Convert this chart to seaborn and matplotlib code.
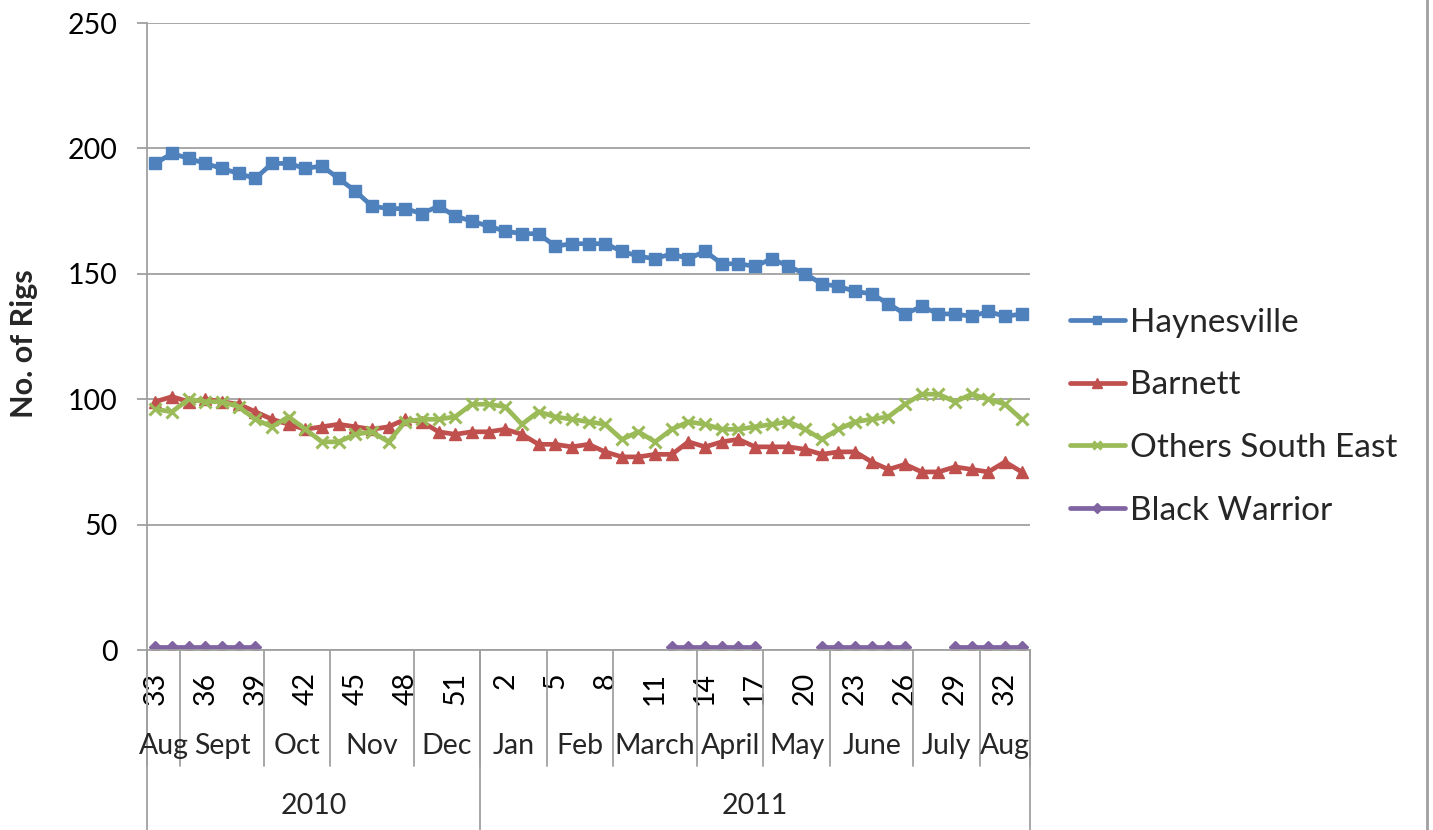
import numpy as np
import pandas as pd
import matplotlib
matplotlib.use("Agg")
import matplotlib.pyplot as plt
from matplotlib.lines import Line2D
import seaborn as sns

nan = np.nan

# week numbers, Aug 2010 (wk 33) to Aug 2011 (wk 33)
weeks = list(range(33, 53)) + list(range(1, 34))
months = ["Aug", "Sept", "Oct", "Nov", "Dec", "Jan", "Feb", "March",
          "April", "May", "June", "July", "Aug"]
month_weeks = [2, 5, 4, 5, 4, 4, 4, 5, 4, 4, 5, 4, 3]
years = ["2010", "2011"]
year_weeks = [20, 33]

haynesville = [194, 198, 196, 194, 192, 190, 188, 194, 194, 192,
               193, 188, 183, 177, 176, 176, 174, 177, 173, 171,
               169, 167, 166, 166, 161, 162, 162, 162, 159, 157,
               156, 158, 156, 159, 154, 154, 153, 156, 153, 150,
               146, 145, 143, 142, 138, 134, 137, 134, 134, 133,
               135, 133, 134]
barnett = [99, 101, 99, 100, 99, 98, 95, 92, 90, 88,
           89, 90, 89, 88, 89, 92, 91, 87, 86, 87,
           87, 88, 86, 82, 82, 81, 82, 79, 77, 77,
           78, 78, 83, 81, 83, 84, 81, 81, 81, 80,
           78, 79, 79, 75, 72, 74, 71, 71, 73, 72,
           71, 75, 71]
others_se = [96, 95, 100, 99, 99, 97, 92, 89, 93, 88,
             83, 83, 86, 87, 83, 91, 92, 92, 93, 98,
             98, 97, 90, 95, 93, 92, 91, 90, 84, 87,
             83, 88, 91, 90, 88, 88, 89, 90, 91, 88,
             84, 88, 91, 92, 93, 98, 102, 102, 99, 102,
             100, 98, 92]
black_warrior = [1, 1, 1, 1, 1, 1, 1, nan, nan, nan,
                 nan, nan, nan, nan, nan, nan, nan, nan, nan, nan,
                 nan, nan, nan, nan, nan, nan, nan, nan, nan, nan,
                 nan, 1, 1, 1, 1, 1, 1, nan, nan, nan,
                 1, 1, 1, 1, 1, 1, nan, nan, 1, 1,
                 1, 1, 1]

names = ["Haynesville", "Barnett", "Others South East", "Black Warrior"]
values = [haynesville, barnett, others_se, black_warrior]
colors = ["#4F81BD", "#C0504D", "#9BBB59", "#8064A2"]
markers = ["s", "^", "x", "D"]
msizes = [8, 9, 8, 6.5]
mews = [1, 1, 2.2, 1]

sns.set_theme(style="white")
plt.rcParams["font.family"] = ["Lato", "DejaVu Sans"]

fig = plt.figure(figsize=(14.33, 8.30), dpi=100)
ax = fig.add_axes([147 / 1433, 180 / 830, 883 / 1433, 627 / 830])

x = np.arange(len(weeks))
for name, vals, col, mk, ms, mew in zip(names, values, colors, markers, msizes, mews):
    df = pd.DataFrame({"week": x, "rigs": vals})
    df["seg"] = df["rigs"].isna().cumsum()   # keep gaps for missing weeks
    df = df.dropna()
    sns.lineplot(data=df, x="week", y="rigs", units="seg", estimator=None,
                 color=col, marker=mk, markersize=ms, markeredgecolor=col,
                 markerfacecolor=col, markeredgewidth=mew, linewidth=3.4,
                 ax=ax, legend=False)

grey = "#A0A0A0"
ax.set_xlim(-0.5, len(weeks) - 0.5)
ax.set_ylim(0, 250)
ax.set_yticks(range(0, 251, 50))
ax.yaxis.grid(True, color=grey, lw=1.3)
ax.xaxis.grid(False)
ax.set_axisbelow(True)
for s in ["top", "right"]:
    ax.spines[s].set_visible(False)
for s in ["left", "bottom"]:
    ax.spines[s].set_color(grey)
    ax.spines[s].set_linewidth(1.3)

ax.tick_params(axis="y", left=True, length=7, width=1.3, color=grey, pad=14,
               labelsize=20.5, labelcolor="black")
ax.set_xticks(x[::3])
ax.set_xticklabels([str(w) for w in weeks[::3]], rotation=90)
ax.tick_params(axis="x", bottom=False, length=0, pad=16, labelsize=20.5,
               labelcolor="black")
ax.set_xlabel("")
ax.set_ylabel("No. of Rigs", fontsize=22, fontweight="bold")
ax.yaxis.set_label_coords(-0.123, 0.488)

# month / year category bands under the axis
trans = ax.get_xaxis_transform()
mb = np.concatenate([[0], np.cumsum(month_weeks)]) - 0.5
for b in mb:
    ax.plot([b, b], [0, -0.185], transform=trans, color=grey, lw=1.3, clip_on=False)
for i, m in enumerate(months):
    ax.text((mb[i] + mb[i + 1]) / 2, -0.153, m, transform=trans,
            ha="center", va="center", fontsize=20.5)
yb = np.concatenate([[0], np.cumsum(year_weeks)]) - 0.5
for b in yb:
    ax.plot([b, b], [0, -0.29], transform=trans, color=grey, lw=1.3, clip_on=False)
for i, y in enumerate(years):
    ax.text((yb[i] + yb[i + 1]) / 2, -0.249, y, transform=trans,
            ha="center", va="center", fontsize=20.5)

handles = [Line2D([], [], color=c, marker=m, markersize=ms * 0.8, lw=3.4,
                  markeredgecolor=c, markerfacecolor=c, markeredgewidth=mew)
           for c, m, ms, mew in zip(colors, markers, msizes, mews)]
ax.legend(handles, names, loc="center left", bbox_to_anchor=(1.0453, 0.372),
          frameon=False, fontsize=24, handlelength=1.65, handletextpad=0.15,
          labelspacing=0.98, borderpad=0, borderaxespad=0)

fig.add_artist(Line2D([1427 / 1433] * 2, [0, 1], transform=fig.transFigure,
                      color=grey, lw=2))

fig.savefig("out.png", dpi=100)
